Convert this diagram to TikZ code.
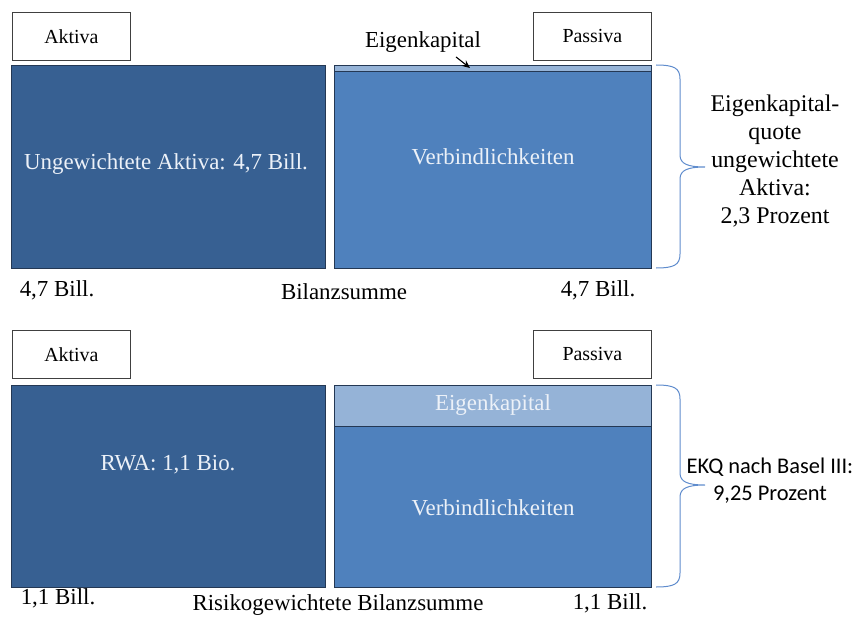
\documentclass[tikz,border=0pt]{standalone}
\usepackage{fontspec}
\setmainfont{Liberation Serif}
\newfontfamily\ekqfont{Carlito}
\usetikzlibrary{arrows.meta, positioning}
\definecolor{aktivblau}{RGB}{55,96,146}
\definecolor{passivblau}{RGB}{79,129,189}
\definecolor{ekblau}{RGB}{149,179,215}
\definecolor{randblau}{RGB}{36,56,84}
\definecolor{klammerblau}{RGB}{95,140,205}
\definecolor{schrift}{RGB}{236,241,248}
% Klammer rechts neben der Passivseite: oben, Spitze, unten
\newcommand{\bilanzklammer}[3]{%
  \draw[klammer] (656,#1) .. controls (674,#1) and (680,#1+3) .. (680,#1+14)
    -- (680,#2-12) .. controls (680,#2-3) and (688,#2) .. (705,#2)
    .. controls (688,#2) and (680,#2+3) .. (680,#2+12)
    -- (680,#3-14) .. controls (680,#3-3) and (674,#3) .. (656,#3);}

\begin{document}
\begin{tikzpicture}[x=1bp, y=-1bp,
            kopf/.style={draw=black!75, fill=white, line width=0.8bp, minimum width=118bp, minimum height=48bp, inner sep=0pt, anchor=north west, font=\fontsize{20}{24}\selectfont},
            block/.style={draw=randblau, line width=1bp, inner sep=0pt, anchor=north west, minimum width=317bp},
            blocktext/.style={text=schrift, font=\fontsize{23}{28}\selectfont},
            fuss/.style={font=\fontsize{23}{28}\selectfont},
            klammer/.style={draw=klammerblau, line width=1bp},
            arrow/.style={-{Stealth[length=8bp, width=7bp]}, line width=1.1bp}
        ]
        \useasboundingbox (0,0) rectangle (861,618);
        % obere Bilanz: ungewichtet
        \node[kopf] (akt1) at (12,12) {Aktiva};
        \node[kopf] (pas1) at (533,12) {Passiva};
        \node[block, fill=aktivblau, minimum width=314bp, minimum height=203bp] (a1) at (11,65) {};
        \node[block, fill=ekblau, minimum height=6bp] (ek1) at (334,65) {};
        \node[block, fill=passivblau, minimum height=197bp] (v1) at (334,71) {};
        \node[blocktext] (ta1) at (166,164) {Ungewichtete Aktiva: 4,7 Bill.};
        \node[blocktext] (tv1) at (493,157) {Verbindlichkeiten};
        \node[fuss] (tek1) at (423,42) {Eigenkapital};
        \coordinate (ekpfeil) at (470,68);
        \draw[arrow] ([xshift=33bp,yshift=-1bp]tek1.south) -- (ekpfeil);
        \bilanzklammer{65}{167}{268}
        \node[align=center, font=\fontsize{24}{28}\selectfont] (q1) at (775,161) {Eigenkapital-\\quote\\ungewichtete\\Aktiva:\\2,3 Prozent};
        \node[fuss] (s1l) at (57,290) {4,7 Bill.};
        \node[fuss] (s1m) at (344,292) {Bilanzsumme};
        \node[fuss] (s1r) at (598,290) {4,7 Bill.};
        % untere Bilanz: risikogewichtet
        \node[kopf] (akt2) at (12,330) {Aktiva};
        \node[kopf] (pas2) at (533,330) {Passiva};
        \node[block, fill=aktivblau, minimum width=314bp, minimum height=202bp] (a2) at (11,385) {};
        \node[block, fill=ekblau, minimum height=41bp] (ek2) at (334,385) {};
        \node[block, fill=passivblau, minimum height=161bp] (v2) at (334,426) {};
        \node[blocktext] (ta2) at (168,465) {RWA: 1,1 Bio.};
        \node[blocktext] (tek2) at (493,405) {Eigenkapital};
        \node[blocktext] (tv2) at (493,508) {Verbindlichkeiten};
        \bilanzklammer{385}{485}{587}
        \node[align=center, font=\ekqfont\fontsize{22.5}{27}\selectfont] (q2) at (770,481) {EKQ nach Basel III:\\9,25 Prozent};
        \node[fuss] (s2l) at (58,598) {1,1 Bill.};
        \node[fuss] (s2m) at (338,605) {Risikogewichtete Bilanzsumme};
        \node[fuss] (s2r) at (610,603) {1,1 Bill.};
        \end{tikzpicture}
\end{document}
